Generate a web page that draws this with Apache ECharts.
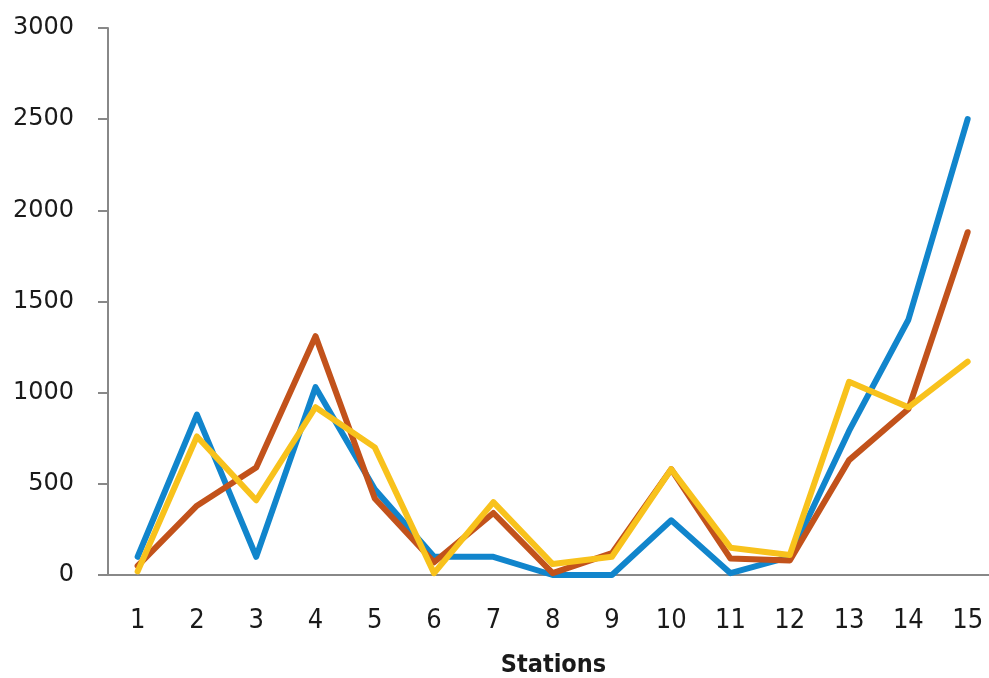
<!DOCTYPE html>
<html>
<head>
<meta charset="utf-8">
<script src="https://cdn.jsdelivr.net/npm/echarts@6/dist/echarts.min.js"></script>
<style>
html,body{margin:0;padding:0;background:#fff;}
#chart{width:989px;height:678px;}
</style>
</head>
<body>
<div id="chart"></div>
<script>
const categories = [1, 2, 3, 4, 5, 6, 7, 8, 9, 10, 11, 12, 13, 14, 15];
const seriesBlue = [100, 880, 100, 1030, 470, 100, 100, 0, 0, 300, 10, 100, 790, 1400, 2500];
const seriesRed = [50, 380, 590, 1310, 420, 70, 340, 10, 120, 580, 90, 80, 630, 910, 1880];
const seriesYellow = [20, 760, 410, 920, 700, 10, 400, 60, 100, 580, 150, 110, 1060, 920, 1170];
const yTicks = [0, 500, 1000, 1500, 2000, 2500, 3000];

const chart = echarts.init(document.getElementById('chart'));
const mk = (data, color) => ({
  type: 'line',
  data: categories.map((c, i) => [c, data[i]]),
  symbol: 'none', smooth: false, clip: false,
  lineStyle: {color: color, width: 6, join: 'round', cap: 'round'},
  itemStyle: {color: color}
});
chart.setOption({
  animation: false,
  backgroundColor: '#ffffff',
  grid: {left: 108, top: 28, right: 0, bottom: 103, containLabel: false, outerBoundsMode: 'none'},
  xAxis: {
    type: 'value', min: 0.5, max: 15.36,
    name: 'Stations', nameLocation: 'middle', nameGap: 78,
    nameTextStyle: {fontFamily: 'DejaVu Sans Condensed, sans-serif', fontWeight: 'bold', fontSize: 25, color: '#1a1a1a', padding: [0, 0, 0, 10]},
    axisLine: {lineStyle: {color: '#888', width: 2}},
    axisTick: {show: false},
    axisLabel: {
      margin: 32, fontFamily: 'DejaVu Sans Condensed, sans-serif', fontSize: 27, color: '#1a1a1a',
      customValues: categories, formatter: v => String(v), showMinLabel: true, showMaxLabel: true
    },
    splitLine: {show: false}
  },
  yAxis: {
    type: 'value', min: yTicks[0], max: yTicks[yTicks.length - 1], interval: 500,
    axisLine: {show: true, lineStyle: {color: '#888', width: 2}},
    axisTick: {show: true, inside: false, length: 10, lineStyle: {color: '#888', width: 2}},
    axisLabel: {margin: 34, fontFamily: 'DejaVu Sans, sans-serif', fontSize: 24, color: '#1a1a1a', formatter: v => String(v)},
    splitLine: {show: false}
  },
  series: [
    mk(seriesBlue, '#1185cc'),
    mk(seriesRed, '#c2521b'),
    mk(seriesYellow, '#f8c21c')
  ]
});
</script>
</body>
</html>
